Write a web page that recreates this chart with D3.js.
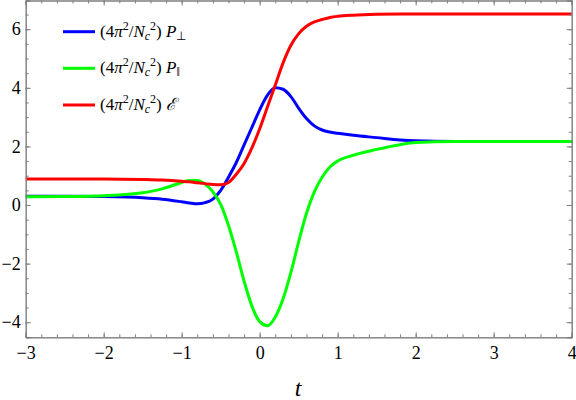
<!DOCTYPE html>
<html><head><meta charset="utf-8">
<script src="https://cdn.jsdelivr.net/npm/d3@7"></script>
<style>body{margin:0;background:#fff}svg{display:block}
svg text{font-family:"Liberation Serif","Times New Roman",Times,serif !important;}
</style>
</head><body>
<svg id="chart" width="576" height="400"></svg>
<script>
const tVals = [-3,-2.5,-2,-1.5,-1.25,-1,-0.9,-0.8,-0.7,-0.6,-0.5,-0.4,-0.3,-0.2,-0.1,0,0.1,0.2,0.3,0.4,0.5,0.6,0.7,0.8,0.9,1.0,1.2,1.5,1.8,2.0,2.5,3,4];
const pPerp = [0.30,0.30,0.29,0.25,0.20,0.11,0.07,0.04,0.08,0.20,0.50,0.95,1.45,2.05,2.65,3.25,3.75,4.0,3.95,3.7,3.3,2.95,2.7,2.56,2.49,2.45,2.38,2.30,2.22,2.19,2.17,2.17,2.17];
const pPar = [0.28,0.29,0.32,0.42,0.55,0.77,0.84,0.84,0.72,0.45,0.02,-0.70,-1.60,-2.60,-3.45,-3.98,-4.12,-3.82,-3.2,-2.3,-1.25,-0.28,0.45,0.95,1.30,1.50,1.70,1.90,2.06,2.13,2.17,2.17,2.17];
const energy = [0.89,0.89,0.89,0.87,0.85,0.81,0.79,0.76,0.73,0.70,0.69,0.77,1.05,1.42,1.95,2.6,3.35,4.1,4.85,5.45,5.85,6.1,6.25,6.33,6.4,6.44,6.48,6.51,6.52,6.52,6.52,6.52,6.52];
const xTicks = [-3,-2,-1,0,1,2,3,4];
const yTicks = [-4,-2,0,2,4,6];
const seriesNames = ["perp","par","energy"];
const seriesColors = ["#0000ff","#00ff00","#ff0000"];
const seriesValues = [pPerp, pPar, energy];

const svg = d3.select("#chart");
const x = d3.scaleLinear().domain([-3,4]).range([25.7,571.7]);
const y = d3.scaleLinear().domain([-4.515,6.98]).range([337.3,0.5]);
const axisColor = "#7f7f7f";

// curves
const line = d3.line().x(d=>x(d[0])).y(d=>y(d[1])).curve(d3.curveMonotoneX);
const plot = svg.append("g");
seriesValues.forEach((vals,i)=>{
  plot.append("path").datum(tVals.map((t,j)=>[t,vals[j]]))
    .attr("d",line).attr("fill","none").attr("stroke",seriesColors[i])
    .attr("stroke-width",3).attr("stroke-linejoin","round");
});

// frame axes
const xMinor = d3.range(-3,4.0001,0.2).map(v=>+v.toFixed(2));
const yMinor = d3.range(-4.5,7.0001,0.5);
function fmt(v){ return v<0 ? "\u2212"+Math.abs(v) : String(v); }
const axBottom = d3.axisBottom(x).tickValues(xTicks).tickSize(-5).tickFormat(fmt).tickPadding(9);
const axTop = d3.axisTop(x).tickValues(xTicks).tickSize(-5).tickFormat("");
const axLeft = d3.axisLeft(y).tickValues(yTicks).tickSize(-5).tickFormat(fmt).tickPadding(5);
const axRight = d3.axisRight(y).tickValues(yTicks).tickSize(-5).tickFormat("");
const bMin = d3.axisBottom(x).tickValues(xMinor).tickSize(-3).tickFormat("");
const tMin = d3.axisTop(x).tickValues(xMinor).tickSize(-3).tickFormat("");
const lMin = d3.axisLeft(y).tickValues(yMinor).tickSize(-3).tickFormat("");
const rMin = d3.axisRight(y).tickValues(yMinor).tickSize(-3).tickFormat("");
function style(g){
  g.attr("font-family",null).attr("font-size",null);
  g.selectAll("path").attr("stroke",axisColor).attr("stroke-width",1);
  g.selectAll("line").attr("stroke",axisColor).attr("stroke-width",1);
  g.selectAll("text").attr("fill","#000").style("font-size","18px");
}
[[bMin,"translate(0,337.3)"],[tMin,"translate(0,0.5)"],[lMin,"translate(25.7,0)"],[rMin,"translate(571.7,0)"],
 [axBottom,"translate(0,337.3)"],[axTop,"translate(0,0.5)"],[axLeft,"translate(25.7,0)"],[axRight,"translate(571.7,0)"]]
 .forEach(([ax,tr])=>{ svg.append("g").attr("transform",tr).call(ax).call(style); });

// x label
svg.append("text").attr("x",298).attr("y",396).attr("text-anchor","middle")
  .style("font-style","italic").style("font-size","24px").text("t");

// legend
const legendY = [31.7,68.3,105];
const lg = svg.append("g");
seriesNames.forEach((nm,i)=>{
  lg.append("line").attr("x1",63).attr("x2",95).attr("y1",legendY[i]).attr("y2",legendY[i])
    .attr("stroke",seriesColors[i]).attr("stroke-width",3);
  const tx = lg.append("text").attr("x",100).attr("y",legendY[i]+5).style("font-size","17px");
  tx.append("tspan").text("(4");
  tx.append("tspan").style("font-style","italic").text("π");
  tx.append("tspan").attr("dy",-7).style("font-size","12px").text("2");
  tx.append("tspan").attr("dy",7).text("/");
  tx.append("tspan").style("font-style","italic").text("N");
  tx.append("tspan").attr("dy",3).style("font-style","italic").style("font-size","12px").text("c");
  tx.append("tspan").attr("dy",-10).style("font-size","12px").text("2");
  tx.append("tspan").attr("dy",7).text(")");
  if(nm==="perp"){
    tx.append("tspan").style("font-style","italic").text(" P");
    tx.append("tspan").attr("dy",3).style("font-size","12px").text("\u22A5");
  } else if(nm==="par"){
    tx.append("tspan").style("font-style","italic").text(" P");
    tx.append("tspan").attr("dy",3).style("font-size","12px").text("\u2016");
  } else {
    tx.append("tspan").style("font-style","italic").text(" \u2130");
  }
});
</script>
</body></html>
